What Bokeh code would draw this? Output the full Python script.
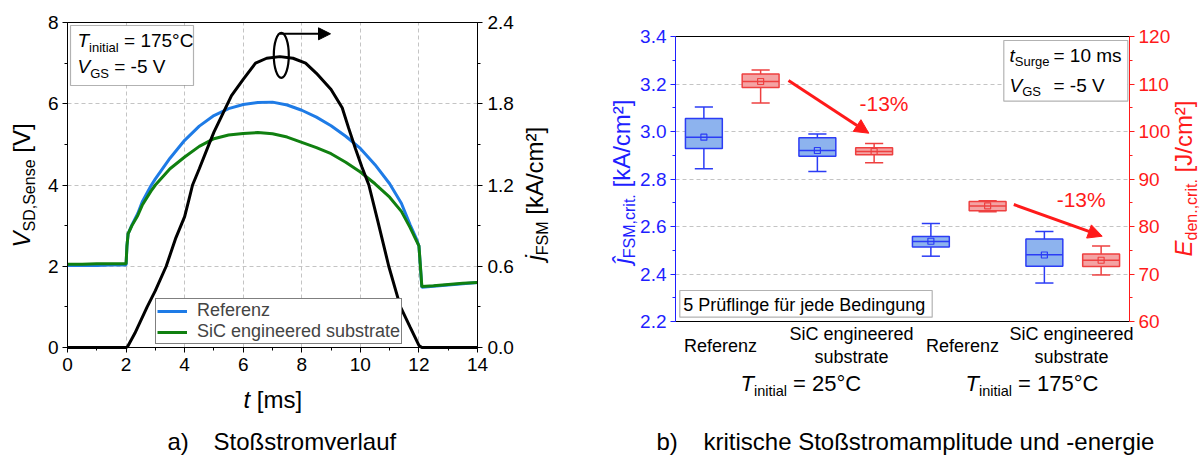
import math
from bokeh.plotting import figure
from bokeh.models import (Range1d, LinearAxis, SingleIntervalTicker, FixedTicker, Grid,
                          PrintfTickFormatter, Label, BoxAnnotation, Arrow, NormalHead,
                          Legend, LegendItem)
from bokeh.layouts import row
from bokeh.embed import file_html
from bokeh.resources import INLINE

# ---------------- data: panel a ----------------
t_v = [0.0, 0.5, 1.0, 1.5, 2.0, 2.03, 2.07, 2.2, 2.4, 2.55, 2.85, 3.0, 3.5, 4.0, 4.5, 5.0,
       5.5, 6.0, 6.5, 7.0, 7.5, 8.0, 8.5, 9.0, 9.5, 10.0, 10.5, 11.0, 11.4, 11.7, 11.9,
       12.0, 12.05, 12.1, 12.5, 13.0, 13.5, 14.0]
v_ref = [2.02, 2.02, 2.02, 2.03, 2.03, 2.5, 2.8, 3.02, 3.3, 3.58, 3.98, 4.15, 4.66, 5.1,
         5.45, 5.71, 5.88, 5.98, 6.03, 6.04, 5.97, 5.84, 5.67, 5.46, 5.2, 4.9, 4.5, 4.03,
         3.55, 3.02, 2.7, 2.5, 2.0, 1.48, 1.51, 1.54, 1.57, 1.6]
v_sic = [2.05, 2.05, 2.06, 2.06, 2.06, 2.5, 2.8, 3.0, 3.25, 3.5, 3.85, 4.0, 4.4, 4.69,
         4.95, 5.14, 5.23, 5.27, 5.29, 5.26, 5.18, 5.05, 4.92, 4.77, 4.56, 4.32, 4.03, 3.7,
         3.35, 2.95, 2.65, 2.5, 2.0, 1.5, 1.52, 1.55, 1.58, 1.6]
t_j = [0.0, 1.0, 2.0, 2.05, 2.3, 2.72, 3.0, 3.37, 3.7, 4.0, 4.14, 4.27, 4.5, 4.83, 5.0,
       5.3, 5.6, 6.0, 6.42, 6.8, 7.25, 7.7, 8.13, 8.5, 9.0, 9.38, 9.6, 9.83, 10.05, 10.29,
       10.6, 10.97, 11.17, 11.37, 11.7, 12.0, 12.1, 13.0, 14.0]
j_fsm = [0, 0, 0, 0.006, 0.105, 0.3, 0.42, 0.6, 0.81, 0.966, 1.086, 1.2, 1.32, 1.5, 1.59,
         1.725, 1.86, 1.98, 2.1, 2.136, 2.148, 2.136, 2.1, 2.025, 1.905, 1.77, 1.62, 1.47,
         1.335, 1.2, 0.93, 0.6, 0.45, 0.3, 0.15, 0.015, 0, 0, 0]
series_names = ["Referenz", "SiC engineered substrate"]

# ---------------- data: panel b ----------------
cat_labels = ["Referenz", "SiC engineered\nsubstrate", "Referenz", "SiC engineered\nsubstrate"]
temp_labels = ["25°C", "175°C"]
j_wlo = [2.843, 2.832, 2.475, 2.362]
j_q1 = [2.928, 2.896, 2.514, 2.433]
j_med = [2.976, 2.920, 2.537, 2.481]
j_q3 = [3.055, 2.974, 2.558, 2.547]
j_whi = [3.103, 2.989, 2.613, 2.579]
j_mean = [2.976, 2.920, 2.538, 2.480]
E_wlo = [105.98, 93.41, 83.10, 69.80]
E_q1 = [109.26, 95.10, 83.30, 71.60]
E_med = [110.53, 95.79, 84.30, 72.90]
E_q3 = [112.08, 96.57, 85.26, 74.20]
E_whi = [112.93, 97.47, 85.40, 75.90]
E_mean = [110.53, 95.79, 84.36, 72.90]

# ---------------- styles ----------------
FONT = "Liberation Sans"
C_REF = "#1E7BE6"
C_SIC = "#108010"
BLUE = "#1F1FFF"
RED = "#FF1A1A"
B_LINE = "#2B3CF5"
B_FILL = "#8DB3EE"
R_LINE = "#EE4040"
R_FILL = "#F4A3A3"
GRID = "#C4C4C4"
MID = 0.355  # baseline -> middle of capitals, in em

AW = {' ': 278, '%': 889, '(': 333, ')': 333, ',': 278, '-': 333, '.': 278, '/': 278,
      '=': 584, '[': 278, ']': 278, '°': 400, '²': 333, 'ü': 556, 'ß': 611, 'ĵ': 222}
for c in "0123456789":
    AW[c] = 556
AW.update(dict(zip("ABCDEFGHIJKLMNOPQRSTUVWXYZ",
                   [667, 667, 722, 722, 667, 611, 778, 722, 278, 500, 667, 556, 833, 722,
                    778, 667, 778, 722, 667, 611, 722, 667, 944, 667, 667, 611])))
AW.update(dict(zip("abcdefghijklmnopqrstuvwxyz",
                   [556, 556, 500, 556, 556, 278, 556, 556, 222, 222, 500, 222, 833, 556,
                    556, 556, 556, 333, 500, 278, 556, 500, 722, 500, 500, 500])))


def tw(s, size):
    return sum(AW.get(c, 556) for c in s) / 1000.0 * size


def rich(p, fx, fy, x0, y0, runs, angle=0.0, color="black"):
    """x0, y0: start of the text baseline in window pixels."""
    pos = 0.0
    for text, size, italic, dy in runs:
        lead = len(text) - len(text.lstrip(" "))
        pos += lead * 0.278 * size
        t = text.lstrip(" ")
        if angle == 0:
            px, py = x0 + pos, y0 + dy - MID * size
        else:
            px, py = x0 + dy - MID * size, y0 - pos
        p.add_layout(Label(x=fx(px), y=fy(py), text=t, text_font=FONT,
                           text_font_size=f"{size}px",
                           text_font_style="italic" if italic else "normal",
                           text_color=color, text_align="left",
                           text_baseline="middle", angle=angle))
        pos += tw(t, size)


def style_axis(ax, color, size="19px", standoff=5):
    ax.axis_line_color = color
    ax.major_tick_line_color = color
    ax.minor_tick_line_color = color
    ax.major_label_text_color = color
    ax.major_label_text_font = FONT
    ax.major_label_text_font_size = size
    ax.major_tick_in = 0
    ax.major_tick_out = 5
    ax.minor_tick_in = 0
    ax.minor_tick_out = 3
    ax.major_label_standoff = standoff


def frame_line(lo, hi, loc):
    return LinearAxis(fixed_location=loc, bounds=(lo, hi), ticker=FixedTicker(ticks=[]),
                      axis_line_color="black")


HAS_CB = "cross_bounds" in Grid.properties()


def add_grid(p, dim, interval, lo, hi, clo, chi):
    if HAS_CB:
        p.add_layout(Grid(dimension=dim, ticker=SingleIntervalTicker(interval=interval),
                          bounds=(lo, hi), cross_bounds=(clo, chi), grid_line_color=GRID,
                          grid_line_dash="4 3", grid_line_width=1))
    else:
        k0 = int(math.ceil(lo / interval - 1e-9)) + 1
        k1 = int(math.floor(hi / interval + 1e-9))
        vals = [k * interval for k in range(k0, k1)]
        if dim == 0:
            p.segment(vals, [clo] * len(vals), vals, [chi] * len(vals), line_color=GRID,
                      line_dash="4 3", line_width=1)
        else:
            p.segment([clo] * len(vals), vals, [chi] * len(vals), vals, line_color=GRID,
                      line_dash="4 3", line_width=1)


W, H = 602, 455
EPS = 1e-6

# ================= panel a =================
LX0, LX1, LY0, LY1 = 67, 477, 22, 347
SXL = (LX1 - LX0) / 14.0
SYL = (LY1 - LY0) / 8.0
def lx(px): return (px - LX0) / SXL
def ly(py): return (LY1 - py) / SYL

pL = figure(width=W, height=H, x_range=Range1d(lx(0), lx(W)), y_range=Range1d(ly(H), ly(0)),
            output_backend="svg", toolbar_location=None, title=None, min_border=0,
            x_axis_type=None, y_axis_type=None)
pL.extra_y_ranges = {"j": Range1d(ly(H) * 0.3, ly(0) * 0.3)}
pL.background_fill_color = "white"
pL.border_fill_color = "white"
pL.outline_line_color = None

add_grid(pL, 0, 2, 0, 14, 0, 8)
add_grid(pL, 1, 2, 0, 8, 0, 14)

axx = LinearAxis(fixed_location=0, bounds=(0, 14 + EPS),
                 ticker=SingleIntervalTicker(interval=2, num_minor_ticks=2))
style_axis(axx, "black", standoff=5)
pL.add_layout(axx, "below")
axv = LinearAxis(fixed_location=0, bounds=(0, 8 + EPS),
                 ticker=SingleIntervalTicker(interval=2, num_minor_ticks=2))
style_axis(axv, "black", standoff=4)
pL.add_layout(axv, "left")
axj = LinearAxis(y_range_name="j", fixed_location=14, bounds=(0, 2.4 + EPS),
                 ticker=SingleIntervalTicker(interval=0.6, num_minor_ticks=2),
                 formatter=PrintfTickFormatter(format="%.1f"))
style_axis(axj, "black", standoff=5)
pL.add_layout(axj, "right")
pL.add_layout(frame_line(0, 14, 8), "above")

r_ref = pL.line(t_v, v_ref, line_color=C_REF, line_width=3)
r_sic = pL.line(t_v, v_sic, line_color=C_SIC, line_width=3)
pL.line(t_j, j_fsm, y_range_name="j", line_color="black", line_width=3)

# ellipse + arrow marking the current curve -> right axis
pL.ellipse(x=[lx(280.8)], y=[ly(54.8)], width=15 / SXL, height=45 / SYL,
           fill_color=None, line_color="black", line_width=2.2)
pL.add_layout(Arrow(end=NormalHead(size=12, fill_color="black", line_color="black"),
                    x_start=lx(279.3), y_start=ly(33.3), x_end=lx(330), y_end=ly(33.3),
                    line_color="black", line_width=2))

legend = Legend(items=[LegendItem(label=series_names[0], renderers=[r_ref]),
                       LegendItem(label=series_names[1], renderers=[r_sic])],
                location=(155, H - 344), label_text_font=FONT,
                label_text_font_size="18px", glyph_width=30, glyph_height=16,
                label_height=16, label_standoff=10, padding=1, spacing=0, margin=0,
                border_line_color="black", border_line_width=1, background_fill_alpha=1)
pL.add_layout(legend)

pL.add_layout(BoxAnnotation(left=lx(70), right=lx(193), top=ly(25), bottom=ly(85),
                            fill_color="white", fill_alpha=1, line_color="black",
                            line_width=1.2))
rich(pL, lx, ly, 77, 47, [("T", 19, True, 0), ("initial", 13, False, 4.5), (" = 175°C", 19, False, 0)])
rich(pL, lx, ly, 77, 73, [("V", 19, True, 0), ("GS", 13, False, 4.5), (" = -5 V", 19, False, 0)])

rich(pL, lx, ly, 243, 408, [("t", 24, True, 0), (" [ms]", 24, False, 0)])
rich(pL, lx, ly, 30, 247, [("V", 24, True, 0), ("SD,Sense", 16, False, 5), (" [V]", 24, False, 0)],
     angle=math.pi / 2)
rich(pL, lx, ly, 543, 260, [("j", 24, True, 0), ("FSM", 16, False, 5), (" [kA/cm²]", 24, False, 0)],
     angle=math.pi / 2)
rich(pL, lx, ly, 167, 450, [("a)", 24, False, 0)])
rich(pL, lx, ly, 213, 450, [("Stoßstromverlauf", 24, False, 0)])

# ================= panel b =================
OFF = 602
RX0, RX1, RY0, RY1 = 675, 1129, 36, 321
SXR = (RX1 - RX0) / 8.0
SYR = (RY1 - RY0) / 1.2
def rx(px): return (px - RX0) / SXR
def ry(py): return 3.4 - (py - RY0) / SYR
def rE(py): return 60 + (ry(py) - 2.2) * 50.0

pR = figure(width=W, height=H, x_range=Range1d(rx(OFF), rx(OFF + W)),
            y_range=Range1d(ry(H), ry(0)), output_backend="svg", toolbar_location=None,
            title=None, min_border=0, x_axis_type=None, y_axis_type=None)
pR.extra_y_ranges = {"E": Range1d(rE(H), rE(0))}
pR.background_fill_color = "white"
pR.border_fill_color = "white"
pR.outline_line_color = None

add_grid(pR, 1, 0.2, 2.2, 3.4, 0, 8)

axb = LinearAxis(fixed_location=0, bounds=(2.2 - EPS, 3.4 + EPS),
                 ticker=SingleIntervalTicker(interval=0.2, num_minor_ticks=2),
                 formatter=PrintfTickFormatter(format="%.1f"))
style_axis(axb, BLUE, standoff=4)
pR.add_layout(axb, "left")
axE = LinearAxis(y_range_name="E", fixed_location=8, bounds=(60, 120 + EPS),
                 ticker=SingleIntervalTicker(interval=10, num_minor_ticks=2))
style_axis(axE, RED, standoff=4)
pR.add_layout(axE, "right")
pR.add_layout(frame_line(0, 8, 2.2), "below")
pR.add_layout(frame_line(0, 8, 3.4), "above")

n = len(j_q1)
xb = [2 * i + 0.5 for i in range(n)]
xr = [2 * i + 1.5 for i in range(n)]
BW, CW = 0.65, 0.16


def boxes(xs, wlo, q1, med, q3, whi, mean, lc, fc, rng):
    kw = dict(y_range_name=rng) if rng else {}
    pR.segment(xs, q3, xs, whi, line_color=lc, line_width=1.5, **kw)
    pR.segment(xs, q1, xs, wlo, line_color=lc, line_width=1.5, **kw)
    pR.segment([x - CW for x in xs], whi, [x + CW for x in xs], whi, line_color=lc, line_width=1.5, **kw)
    pR.segment([x - CW for x in xs], wlo, [x + CW for x in xs], wlo, line_color=lc, line_width=1.5, **kw)
    pR.vbar(x=xs, width=BW, bottom=q1, top=q3, fill_color=fc, line_color=lc, line_width=1.5, **kw)
    pR.segment([x - BW / 2 for x in xs], med, [x + BW / 2 for x in xs], med, line_color=lc,
               line_width=1.5, **kw)
    pR.scatter(xs, mean, marker="square", size=6, fill_color=None, line_color=lc,
               line_width=1.2, **kw)


boxes(xb, j_wlo, j_q1, j_med, j_q3, j_whi, j_mean, B_LINE, B_FILL, None)
boxes(xr, E_wlo, E_q1, E_med, E_q3, E_whi, E_mean, R_LINE, R_FILL, "E")

# -13 % arrows
head = dict(size=14, fill_color=RED, line_color=RED)
pR.add_layout(Arrow(end=NormalHead(**head), x_start=rx(788), y_start=ry(80), x_end=rx(868.3),
                    y_end=ry(132.7), line_color=RED, line_width=3))
pR.add_layout(Arrow(end=NormalHead(**head), x_start=rx(1013.3), y_start=ry(204), x_end=rx(1101.7),
                    y_end=ry(235.7), line_color=RED, line_width=3))
for (cx, cy) in [(883.5, 102.5), (1080.7, 198.7)]:
    pR.add_layout(Label(x=rx(cx), y=ry(cy), text="-13%", text_font=FONT, text_font_size="21px",
                        text_color=RED, text_align="center", text_baseline="middle"))

# info boxes
pR.add_layout(BoxAnnotation(left=rx(679.3), right=rx(931.7), top=ry(290), bottom=ry(316.7),
                            fill_color="white", fill_alpha=1, line_color="black", line_width=1.2))
rich(pR, rx, ry, 682.7, 310.7, [("5 Prüflinge für jede Bedingung", 18, False, 0)])
pR.add_layout(BoxAnnotation(left=rx(1003.3), right=rx(1127.3), top=ry(40), bottom=ry(100.7),
                            fill_color="white", fill_alpha=1, line_color="black", line_width=1.2))
rich(pR, rx, ry, 1009, 61.7, [("t", 19, True, 0), ("Surge", 13, False, 4)])
rich(pR, rx, ry, 1053, 61.7, [("= 10 ms", 19, False, 0)])
rich(pR, rx, ry, 1009, 91.7, [("V", 19, True, 0), ("GS", 13, False, 4)])
rich(pR, rx, ry, 1053, 91.7, [("= -5 V", 19, False, 0)])

# category labels
cat_cx = [720, 851, 962, 1071]
for i, lab in enumerate(cat_labels):
    lines = lab.split("\n")
    base = [352] if len(lines) == 1 else [339.5, 363]
    for ln, by in zip(lines, base):
        rich(pR, rx, ry, cat_cx[i] - tw(ln, 18) / 2, by, [(ln, 18, False, 0)])
for x0, tl in zip([740, 965], temp_labels):
    rich(pR, rx, ry, x0, 391, [("T", 22, True, 0), ("initial", 14.5, False, 5), (" = " + tl, 22, False, 0)])

# axis titles
rich(pR, rx, ry, 630, 263, [("ĵ", 24, True, 0), ("FSM,crit.", 16, False, 5), (" [kA/cm²]", 24, False, 0)],
     angle=math.pi / 2, color=BLUE)
rich(pR, rx, ry, 1191.6, 256, [("E", 24, True, 0), ("den.,crit.", 16, False, 5), (" [J/cm²]", 24, False, 0)],
     angle=math.pi / 2, color=RED)
rich(pR, rx, ry, 656, 450, [("b)", 24, False, 0)])
rich(pR, rx, ry, 703, 450, [("kritische Stoßstromamplitude und -energie", 24, False, 0)])

layout = row(pL, pR)
open("out.html", "w").write(file_html(layout, INLINE))
